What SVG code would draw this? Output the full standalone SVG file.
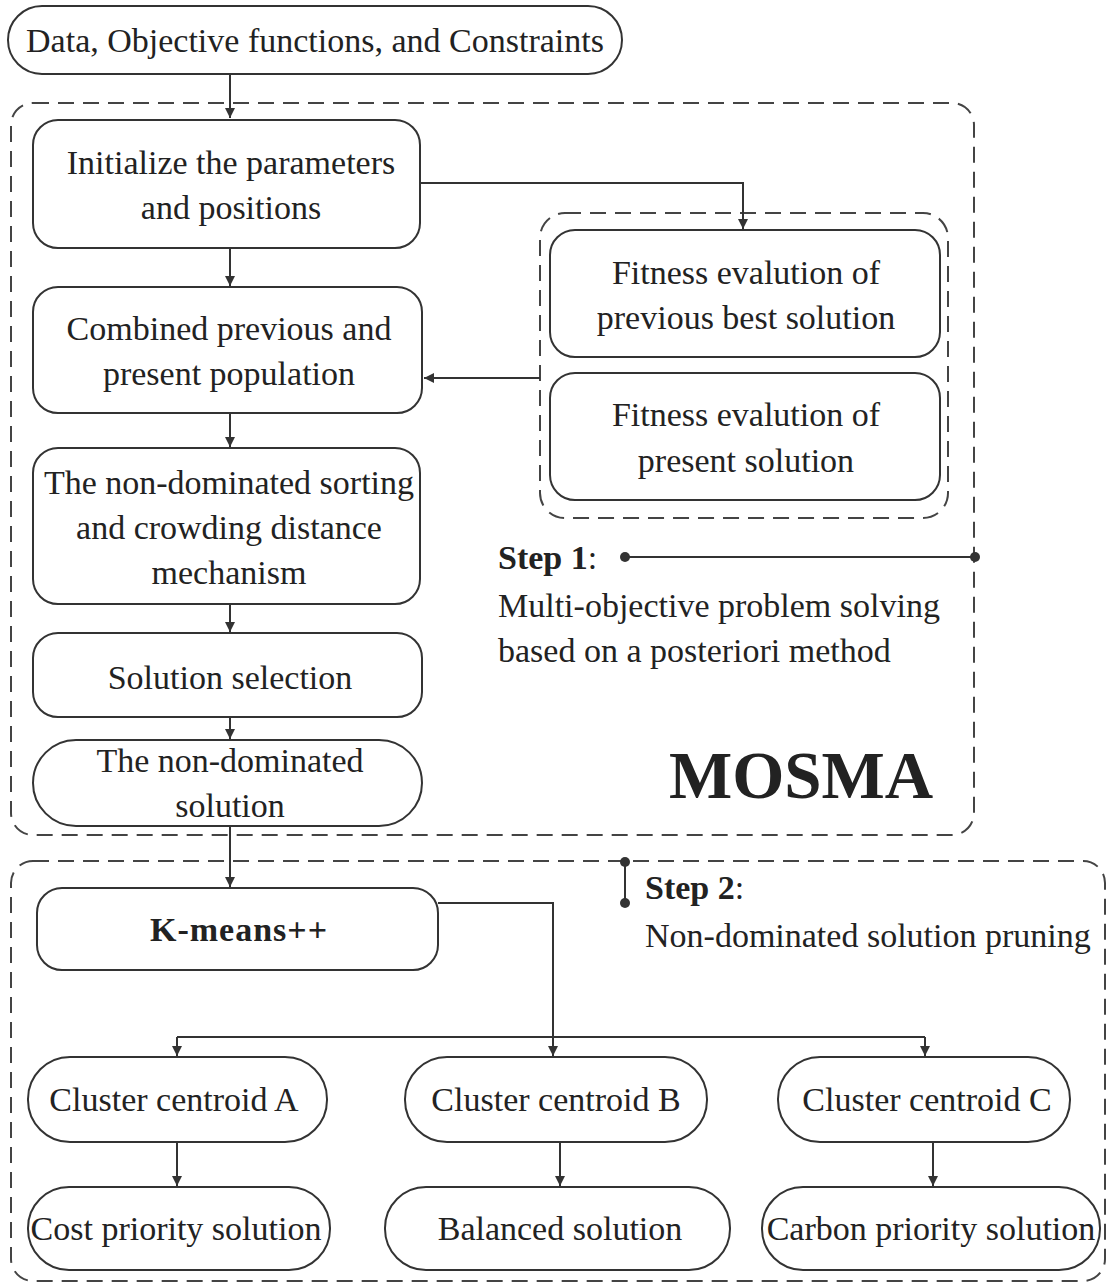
<svg xmlns="http://www.w3.org/2000/svg" width="1108" height="1285" viewBox="0 0 1108 1285">
<defs>
<marker id="ah" viewBox="0 0 10 10" refX="10" refY="5" markerWidth="10" markerHeight="10" markerUnits="userSpaceOnUse" orient="auto">
<path d="M0,0 L10,5 L0,10 Z" fill="#333"/>
</marker>
<style>
.n{fill:#fff;stroke:#333;stroke-width:2}
.d{fill:none;stroke:#444;stroke-width:2;stroke-dasharray:16 9}
.t{font-family:"Liberation Serif","Times New Roman",serif;font-size:34px;fill:#222;text-anchor:middle}
.l{font-family:"Liberation Serif","Times New Roman",serif;font-size:34px;fill:#222}
.b{font-weight:bold}
.c{fill:none;stroke:#333;stroke-width:2}
.dot{fill:#333}
</style>
</defs>
<rect width="1108" height="1285" fill="#fff"/>

<g id="group1">
<rect class="d" x="11" y="103" width="963" height="732" rx="22"/>
</g>
<g id="group2">
<rect class="d" x="11" y="861" width="1094" height="420" rx="22"/>
</g>
<g id="inner-group">
<rect class="d" x="540" y="213" width="408" height="305" rx="25"/>
</g>

<g id="connectors">
<path class="c" d="M230,75 V118" marker-end="url(#ah)"/>
<path class="c" d="M420,183 H743 V229" marker-end="url(#ah)"/>
<path class="c" d="M540,378 H424" marker-end="url(#ah)"/>
<path class="c" d="M230,248 V286" marker-end="url(#ah)"/>
<path class="c" d="M230,413 V447" marker-end="url(#ah)"/>
<path class="c" d="M230,604 V632" marker-end="url(#ah)"/>
<path class="c" d="M230,717 V739" marker-end="url(#ah)"/>
<path class="c" d="M230,826 V887" marker-end="url(#ah)"/>
<path class="c" d="M438,903 H553 V1056" marker-end="url(#ah)"/>
<path class="c" d="M177,1037 H925"/>
<path class="c" d="M177,1037 V1056" marker-end="url(#ah)"/>
<path class="c" d="M925,1037 V1056" marker-end="url(#ah)"/>
<path class="c" d="M177,1142 V1186" marker-end="url(#ah)"/>
<path class="c" d="M560,1142 V1186" marker-end="url(#ah)"/>
<path class="c" d="M933,1142 V1186" marker-end="url(#ah)"/>
<path class="c" d="M625,557 H975"/>
<circle class="dot" cx="625" cy="557" r="5"/>
<circle class="dot" cx="975" cy="557" r="5"/>
<path class="c" d="M625,862 V903"/>
<circle class="dot" cx="625" cy="862" r="5"/>
<circle class="dot" cx="625" cy="903" r="5"/>
</g>

<g id="n-data">
<rect class="n" x="8" y="6" width="614" height="68" rx="34"/>
<text class="t" x="315" y="52">Data, Objective functions, and Constraints</text>
</g>
<g id="n-init">
<rect class="n" x="33" y="120" width="387" height="128" rx="25"/>
<text class="t" x="231" y="174">Initialize the parameters</text>
<text class="t" x="231" y="219">and positions</text>
</g>
<g id="n-fit1">
<rect class="n" x="550" y="230" width="390" height="127" rx="25"/>
<text class="t" x="746" y="284">Fitness evalution of</text>
<text class="t" x="746" y="329">previous best solution</text>
</g>
<g id="n-fit2">
<rect class="n" x="550" y="373" width="390" height="127" rx="25"/>
<text class="t" x="746" y="426">Fitness evalution of</text>
<text class="t" x="746" y="472">present solution</text>
</g>
<g id="n-combined">
<rect class="n" x="33" y="287" width="389" height="126" rx="25"/>
<text class="t" x="229" y="340">Combined previous and</text>
<text class="t" x="229" y="385">present population</text>
</g>
<g id="n-sorting">
<rect class="n" x="33" y="448" width="387" height="156" rx="25"/>
<text class="t" x="229" y="494">The non-dominated sorting</text>
<text class="t" x="229" y="539">and crowding distance</text>
<text class="t" x="229" y="584">mechanism</text>
</g>
<g id="n-selection">
<rect class="n" x="33" y="633" width="389" height="84" rx="25"/>
<text class="t" x="230" y="689">Solution selection</text>
</g>
<g id="n-nondom">
<rect class="n" x="33" y="740" width="389" height="86" rx="43"/>
<text class="t" x="230" y="772">The non-dominated</text>
<text class="t" x="230" y="817">solution</text>
</g>
<g id="step1">
<text class="l" x="498" y="569"><tspan class="b">Step 1</tspan>:</text>
<text class="l" x="498" y="617">Multi-objective problem solving</text>
<text class="l" x="498" y="662">based on a posteriori method</text>
</g>
<g id="mosma">
<text class="l b" x="669" y="798" style="font-size:67px">MOSMA</text>
</g>
<g id="step2">
<text class="l" x="645" y="899"><tspan class="b">Step 2</tspan>:</text>
<text class="l" x="645" y="947">Non-dominated solution pruning</text>
</g>
<g id="n-kmeans">
<rect class="n" x="37" y="888" width="401" height="82" rx="25"/>
<text class="l b" x="150" y="941" textLength="177" lengthAdjust="spacing">K-means++</text>
</g>
<g id="n-ca">
<rect class="n" x="28" y="1057" width="299" height="85" rx="42"/>
<text class="t" x="174" y="1111">Cluster centroid A</text>
</g>
<g id="n-cb">
<rect class="n" x="405" y="1057" width="302" height="85" rx="42"/>
<text class="t" x="556" y="1111">Cluster centroid B</text>
</g>
<g id="n-cc">
<rect class="n" x="778" y="1057" width="292" height="85" rx="42"/>
<text class="t" x="927" y="1111">Cluster centroid C</text>
</g>
<g id="n-cost">
<rect class="n" x="28" y="1187" width="302" height="83" rx="41"/>
<text class="t" x="176" y="1240">Cost priority solution</text>
</g>
<g id="n-bal">
<rect class="n" x="385" y="1187" width="345" height="83" rx="41"/>
<text class="t" x="560" y="1240">Balanced solution</text>
</g>
<g id="n-carbon">
<rect class="n" x="762" y="1187" width="338" height="83" rx="41"/>
<text class="t" x="931" y="1240">Carbon priority solution</text>
</g>
</svg>
